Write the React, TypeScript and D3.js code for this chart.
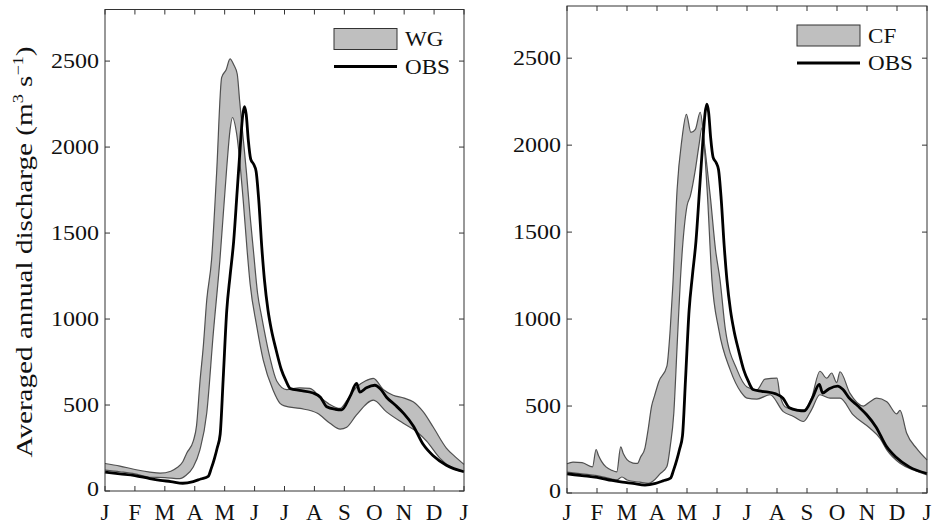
import React from 'react';
import * as d3 from 'd3';

// month axis: 0 = Jan 1 ... 12 = next Jan 1
const MONTHS = ['J', 'F', 'M', 'A', 'M', 'J', 'J', 'A', 'S', 'O', 'N', 'D', 'J'];
const Y_TICKS = [0, 500, 1000, 1500, 2000, 2500];

// observed discharge [month, m3/s]
const obs = [
  [0, 110], [0.5, 100], [1, 90], [1.5, 72], [1.85, 62], [2.2, 55], [2.6, 45], [2.95, 55],
  [3.2, 70], [3.45, 85], [3.55, 130], [3.66, 190], [3.75, 250], [3.85, 330], [3.95, 650],
  [4.07, 1050], [4.18, 1250], [4.3, 1450], [4.42, 1750], [4.52, 2000], [4.6, 2180],
  [4.66, 2235], [4.72, 2190], [4.79, 2040], [4.87, 1930], [4.97, 1900], [5.05, 1860],
  [5.14, 1690], [5.24, 1420], [5.33, 1227], [5.45, 1050], [5.56, 939], [5.72, 820],
  [5.89, 708], [6.05, 640], [6.2, 595], [6.5, 585], [6.96, 570], [7.2, 545], [7.41, 490],
  [7.7, 475], [7.91, 472], [8.19, 550], [8.41, 625], [8.52, 575], [8.74, 600], [9.02, 615],
  [9.2, 595], [9.41, 545], [9.7, 500], [9.99, 450], [10.3, 380], [10.64, 270], [10.97, 205],
  [11.41, 150], [12, 112],
];

// WG ensemble envelope
const wgHigh = [
  [0, 160], [0.5, 145], [1, 125], [1.5, 110], [1.84, 104], [2.2, 115], [2.4, 135], [2.6, 170],
  [2.73, 220], [2.95, 290], [3.06, 380], [3.17, 627], [3.29, 850], [3.4, 1109], [3.56, 1341],
  [3.73, 1846], [3.9, 2405], [4.05, 2450], [4.18, 2513], [4.3, 2480], [4.42, 2425], [4.5, 2270],
  [4.62, 2050], [4.73, 1850], [4.85, 1600], [4.96, 1400], [5.1, 1150], [5.24, 1011], [5.51, 778],
  [5.74, 640], [6.07, 590], [6.5, 600], [6.85, 597], [7.19, 545], [7.5, 505], [7.86, 480],
  [8.1, 530], [8.41, 605], [8.7, 640], [8.97, 655], [9.3, 590], [9.63, 557], [10, 540],
  [10.3, 519], [10.64, 460], [10.97, 372], [11.41, 250], [11.7, 200], [12, 155],
];
const wgLow = [
  [0, 122], [0.5, 112], [1, 100], [1.5, 80], [2, 78], [2.5, 72], [2.7, 90], [2.95, 140],
  [3.17, 238], [3.4, 452], [3.62, 917], [3.84, 1341], [4.07, 1883], [4.18, 2100], [4.26, 2172],
  [4.4, 2078], [4.62, 1690], [4.75, 1400], [4.85, 1206], [5.07, 960], [5.29, 761], [5.62, 586],
  [5.85, 510], [6, 495], [6.52, 480], [7.1, 452], [7.52, 394], [7.86, 360], [8.08, 371],
  [8.4, 441], [8.97, 528], [9.41, 460], [9.97, 394], [10.43, 343], [10.75, 290], [11.2, 190],
  [11.87, 115], [12, 112],
];

// CF ensemble envelope
const cfHigh = [
  [0, 168], [0.2, 178], [0.5, 175], [0.85, 150], [0.97, 250], [1.05, 215], [1.15, 182], [1.3, 150],
  [1.5, 130], [1.66, 122], [1.79, 265], [1.88, 225], [2, 192], [2.2, 172], [2.35, 170], [2.45, 205],
  [2.6, 260], [2.7, 360], [2.82, 500], [2.92, 560],
  [3.06, 640], [3.33, 730], [3.44, 940], [3.53, 1200], [3.67, 1745], [3.83, 2033], [3.98, 2177],
  [4.13, 2073], [4.28, 2091], [4.44, 2189], [4.6, 1980], [4.78, 1700], [4.95, 1400], [5.1, 1227],
  [5.28, 939], [5.67, 708], [6, 610], [6.33, 593], [6.6, 655], [7, 660], [7.1, 560], [7.32, 490],
  [7.88, 478], [8.15, 545], [8.43, 700], [8.66, 660], [8.82, 690], [8.99, 635], [9.1, 697],
  [9.43, 574], [9.88, 500], [10.1, 525], [10.32, 545], [10.66, 525], [10.99, 455], [11.1, 475],
  [11.32, 345], [11.66, 255], [12, 190],
];
const cfLow = [
  [0, 120], [0.5, 110], [1, 100], [1.5, 80], [1.66, 75], [1.83, 92], [2, 75], [2.43, 62],
  [2.71, 55], [2.88, 70], [3.1, 110], [3.33, 152], [3.44, 267], [3.56, 459], [3.67, 843],
  [3.78, 1227], [4, 1650], [4.11, 1707], [4.28, 1861], [4.4, 2000], [4.5, 2100], [4.67, 1745],
  [4.83, 1227], [5.06, 939], [5.44, 708], [5.8, 580], [6, 545], [6.33, 540], [6.77, 565],
  [7.21, 468], [7.55, 440], [7.88, 411], [8.15, 478], [8.43, 565], [8.77, 545], [9.1, 545],
  [9.54, 449], [10.1, 372], [10.43, 315], [10.66, 248], [11.1, 171], [11.55, 132], [12, 104],
];

const FONT = '"Liberation Serif", "Times New Roman", serif';
const BAND_FILL = '#bfbfbf';
const BAND_EDGE = '#505050';
const AXIS = '#333';

type Pt = number[];

function Panel({ x0, x1, y0, y1, high, low, name }:
  { x0: number; x1: number; y0: number; y1: number; high: Pt[]; low: Pt[]; name: string }) {
  const x = d3.scaleLinear().domain([0, 12]).range([x0, x1]);
  const y = d3.scaleLinear().domain([0, 2800]).range([y1, y0]);
  const line = d3.line<Pt>().x(d => x(d[0])).y(d => y(d[1])).curve(d3.curveMonotoneX);
  // envelope polygon: upper edge forward, lower edge back
  const band = (line(high) || '') + (line(low.slice().reverse()) || '').replace(/^M/, 'L') + 'Z';
  const tick = 5;

  const lx = x1 - 130;
  const ly = y0 + 19;

  return (
    <g>
      <path d={band} fill={BAND_FILL} stroke="none" />
      <path d={line(high) || ''} fill="none" stroke={BAND_EDGE} strokeWidth={1.2} />
      <path d={line(low) || ''} fill="none" stroke={BAND_EDGE} strokeWidth={1.2} />
      <path d={line(obs) || ''} fill="none" stroke="#000" strokeWidth={2.8} strokeLinejoin="round" />

      <rect x={x0} y={y0} width={x1 - x0} height={y1 - y0} fill="none" stroke={AXIS} strokeWidth={1} />
      {MONTHS.map((m, i) => (
        <g key={'m' + i}>
          <line x1={x(i)} x2={x(i)} y1={y1} y2={y1 - tick} stroke={AXIS} />
          <line x1={x(i)} x2={x(i)} y1={y0} y2={y0 + tick} stroke={AXIS} />
          <text x={x(i)} y={520} textAnchor="middle" fontSize={23} fontFamily={FONT} fill="#111">{m}</text>
        </g>
      ))}
      {Y_TICKS.map(t => (
        <g key={'y' + t}>
          <line x1={x0} x2={x0 + tick} y1={y(t)} y2={y(t)} stroke={AXIS} />
          <line x1={x1} x2={x1 - tick} y1={y(t)} y2={y(t)} stroke={AXIS} />
          <text transform={`translate(${x0 - 6},${y(t) + (t === 0 ? -2 : 0)}) scale(1.2,1)`}
            textAnchor="end" dominantBaseline="central" fontSize={20} fontFamily={FONT} fill="#111">{t}</text>
        </g>
      ))}

      {/* legend */}
      <rect x={lx} y={ly} width={63} height={21} fill={BAND_FILL} stroke={AXIS} strokeWidth={1} />
      <text transform={`translate(${lx + 71},${ly + 10.5}) scale(1.05,1)`} dominantBaseline="central"
        fontSize={22} fontFamily={FONT} fill="#111">{name}</text>
      <line x1={lx} x2={lx + 63} y1={y0 + 57} y2={y0 + 57} stroke="#000" strokeWidth={2.8} />
      <text transform={`translate(${lx + 71},${y0 + 57}) scale(1.05,1)`} dominantBaseline="central"
        fontSize={22} fontFamily={FONT} fill="#111">OBS</text>
    </g>
  );
}

export default function App() {
  return (
    <svg width={933} height={526} style={{ display: 'block', position: 'absolute', left: 0, top: 0, background: '#fff' }}>
      <rect width={933} height={526} fill="#fff" />
      <Panel x0={105} x1={464} y0={9.5} y1={491} high={wgHigh} low={wgLow} name="WG" />
      <Panel x0={567} x1={927} y0={6} y1={493} high={cfHigh} low={cfLow} name="CF" />
      <text transform="translate(32,252) rotate(-90)" textAnchor="middle" fontSize={24} fontFamily={FONT} fill="#111"
        textLength={411} lengthAdjust="spacingAndGlyphs">
        Averaged annual discharge (m<tspan dy={-9} fontSize={15}>3</tspan><tspan dy={9}> s</tspan>
        <tspan dy={-9} fontSize={15}>−1</tspan><tspan dy={9}>)</tspan>
      </text>
    </svg>
  );
}
